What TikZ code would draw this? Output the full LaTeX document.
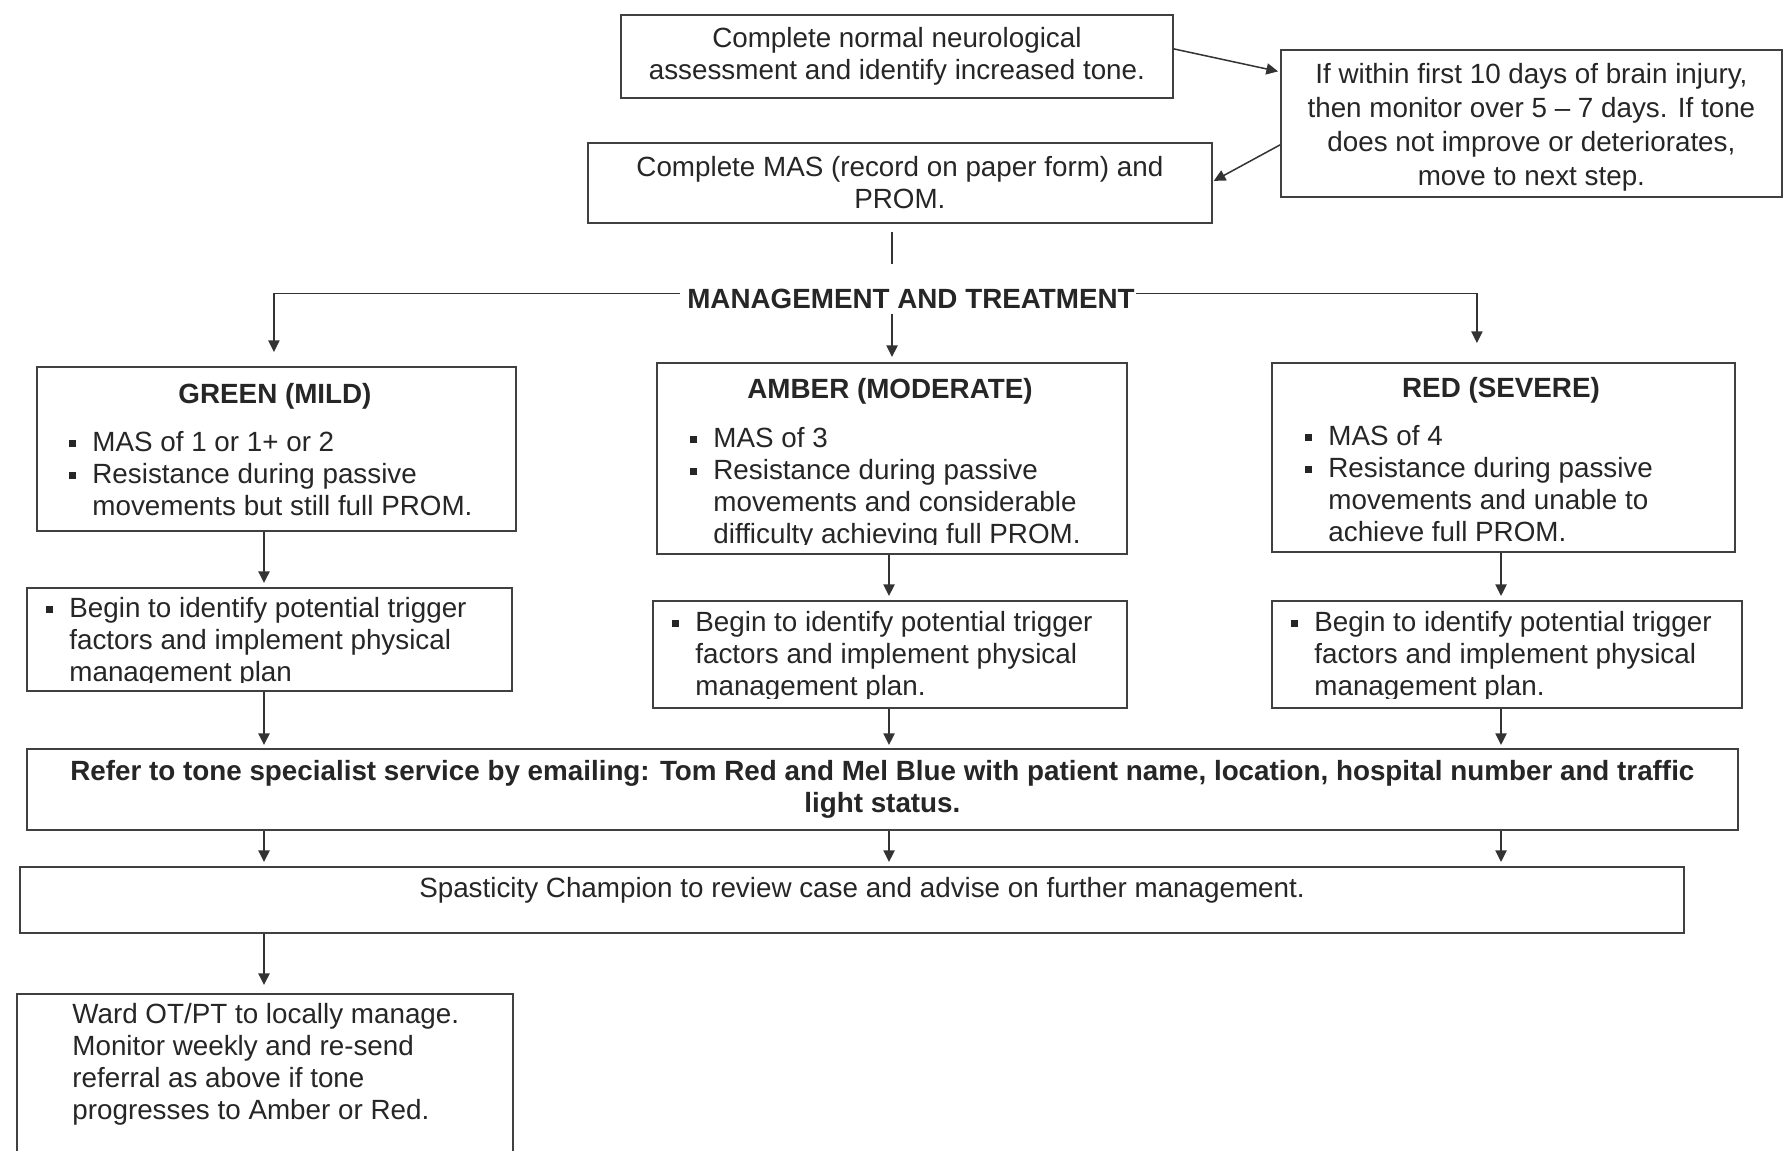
\documentclass[tikz,border=0pt]{standalone}
\usepackage{fontspec}
\setmainfont{Liberation Sans}
\usetikzlibrary{arrows.meta}
\newcommand\fsz{\fontsize{13.9pt}{16pt}\selectfont}
\newcommand\fszb{\fontsize{13.9pt}{17pt}\selectfont}
\newcommand\sqb{\makebox[11.5pt][l]{\rule[0.14em]{0.24em}{0.24em}}}
\newcommand\ind{\hspace*{11.5pt}}
\begin{document}
\begin{tikzpicture}[x=0.5pt,y=-0.5pt,
  box/.style={draw=black!75, line width=0.9pt, inner sep=0pt, anchor=north west, text=black!85, font=\fsz, align=center},
  txt/.style={inner sep=0pt, text=black!85, font=\fsz},
  ttl/.style={txt, font=\fsz\bfseries, anchor=base},
  ln/.style={draw=black!80, line width=0.75pt},
  arr/.style={ln, -{Triangle[length=5.8pt,width=5.6pt]}}]
\clip (0,0) rectangle (1783,1151);
\fill[white] (0,0) rectangle (1783,1151);
% top boxes
\node[box, minimum width=276pt, minimum height=41.5pt] (b1) at (620,14) {Complete normal neurological\\assessment and identify increased tone.};
\node[box, minimum width=250.5pt, minimum height=73.5pt] (b2) at (1280,49) {};
\node[txt, font=\fszb, align=center, yshift=-2pt] (b2t) at (b2.center) {If within first 10 days of brain injury,\\then monitor over 5 \textendash{} 7 days. If tone\\does not improve or deteriorates,\\move to next step.};
\node[box, minimum width=312pt, minimum height=40pt] (b3) at (587,142) {Complete MAS (record on paper form) and\\PROM.};
\node[ttl] (mt) at (911,308) {MANAGEMENT AND TREATMENT};
% category boxes
\node[box, minimum width=239.5pt, minimum height=82pt] (gr) at (36,366) {};
\node[box, minimum width=235pt, minimum height=95.5pt] (am) at (656,362) {};
\node[box, minimum width=231.5pt, minimum height=94.5pt] (rd) at (1271,362) {};
\node[ttl] (grt) at (275,403) {GREEN (MILD)};
\node[ttl] (amt) at (890,398) {AMBER (MODERATE)};
\node[ttl] (rdt) at (1501,397) {RED (SEVERE)};
\node[txt, anchor=base west] (grl) at (69,451) {\parbox[t]{230pt}{\raggedright\sqb MAS of 1 or 1+ or 2\\ \sqb Resistance during passive\\ \ind movements but still full PROM.}};
\begin{scope}
\clip (656,362) rectangle (1126,544);
\node[txt, anchor=base west] (aml) at (690,447) {\parbox[t]{230pt}{\raggedright\sqb MAS of 3\\ \sqb Resistance during passive\\ \ind movements and considerable\\ \ind difficulty achieving full PROM.}};
\end{scope}
\node[txt, anchor=base west] (rdl) at (1305,445) {\parbox[t]{230pt}{\raggedright\sqb MAS of 4\\ \sqb Resistance during passive\\ \ind movements and unable to\\ \ind achieve full PROM.}};
% trigger boxes
\node[box, minimum width=242.5pt, minimum height=51.5pt] (grtr) at (26,587) {};
\node[box, minimum width=237pt, minimum height=53.5pt] (amtr) at (652,600) {};
\node[box, minimum width=235pt, minimum height=53.5pt] (rdtr) at (1271,600) {};
\begin{scope}
\clip (26,587) rectangle (511,682);
\node[txt, anchor=base west] (grtrl) at (46,617) {\parbox[t]{230pt}{\raggedright\sqb Begin to identify potential trigger\\ \ind factors and implement physical\\ \ind management plan}};
\end{scope}
\begin{scope}
\clip (652,600) rectangle (1126,698);
\node[txt, anchor=base west] (amtrl) at (672,631) {\parbox[t]{230pt}{\raggedright\sqb Begin to identify potential trigger\\ \ind factors and implement physical\\ \ind management plan.}};
\end{scope}
\begin{scope}
\clip (1271,600) rectangle (1741,698);
\node[txt, anchor=base west] (rdtrl) at (1291,631) {\parbox[t]{230pt}{\raggedright\sqb Begin to identify potential trigger\\ \ind factors and implement physical\\ \ind management plan.}};
\end{scope}
% bottom boxes
\node[box, minimum width=855.5pt, minimum height=40.5pt, font=\fsz\bfseries] (rf) at (26,748) {Refer to tone specialist service by emailing: Tom Red and Mel Blue with patient name, location, hospital number and traffic\\light status.};
\node[box, minimum width=832pt, minimum height=33pt] (sp) at (19,866) {};
\node[txt, anchor=base] (spt) at (862,897) {Spasticity Champion to review case and advise on further management.};
\node[box, minimum width=248pt, minimum height=88.5pt] (wd) at (16,993) {};
\node[txt, anchor=base west] (wdt) at (72,1023) {\parbox[t]{230pt}{\raggedright Ward OT/PT to locally manage.\\ Monitor weekly and re-send\\ referral as above if tone\\ progresses to Amber or Red.}};
% connectors
\coordinate (k0) at (892,0);
\coordinate (k1) at (264,0);
\coordinate (k2) at (889,0);
\coordinate (k3) at (1501,0);
\draw[arr] ([yshift=3.75pt]b1.east) -- ([xshift=-1pt,yshift=26pt]b2.west);
\draw[arr] ([yshift=-10.75pt]b2.west) -- ([xshift=0.5pt,yshift=1pt]b3.east);
\draw[ln, shorten <=4pt, shorten >=12pt] (b3.south -| k0) -- (mt.north -| k0);
\draw[arr] ([xshift=-3.5pt,yshift=2.5pt]mt.west) -| ([xshift=-1.25pt,yshift=7pt]gr.north);
\draw[arr] ([xshift=0.5pt,yshift=2.5pt]mt.east) -| ([xshift=-13.25pt,yshift=9.5pt]rd.north);
\draw[arr, shorten <=2.5pt, shorten >=2.5pt] (mt.south -| k0) -- (am.north -| k0);
\draw[arr, shorten >=2pt] (gr.south -| k1) -- (grtr.north -| k1);
\draw[arr, shorten >=2pt] (am.south -| k2) -- (amtr.north -| k2);
\draw[arr, shorten >=2pt] (rd.south -| k3) -- (rdtr.north -| k3);
\draw[arr, shorten >=1.5pt] (grtr.south -| k1) -- (rf.north -| k1);
\draw[arr, shorten >=1.5pt] (amtr.south -| k2) -- (rf.north -| k2);
\draw[arr, shorten >=1.5pt] (rdtr.south -| k3) -- (rf.north -| k3);
\draw[arr, shorten >=2pt] (rf.south -| k1) -- (sp.north -| k1);
\draw[arr, shorten >=2pt] (rf.south -| k2) -- (sp.north -| k2);
\draw[arr, shorten >=2pt] (rf.south -| k3) -- (sp.north -| k3);
\draw[arr, shorten >=4pt] (sp.south -| k1) -- (wd.north -| k1);
\end{tikzpicture}
\end{document}
